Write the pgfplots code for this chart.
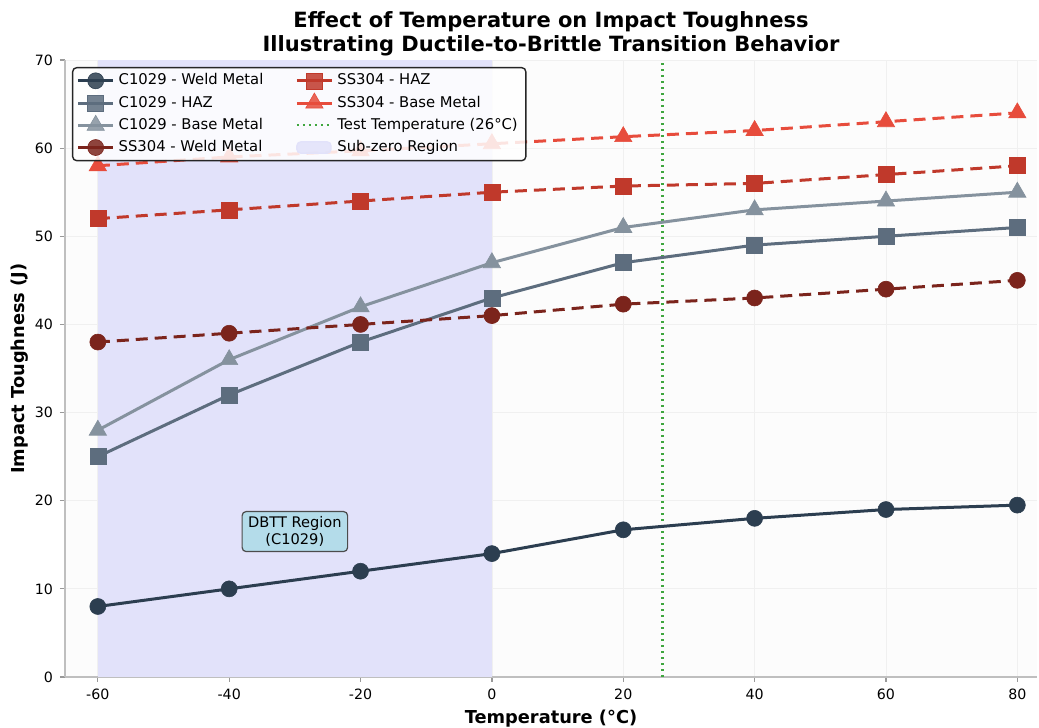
\documentclass[border=0pt]{standalone}
\usepackage{pgfplots}
\pgfplotsset{compat=1.18}
\usepackage{fontspec}
\setmainfont{DejaVu Sans}
\definecolor{cw}{HTML}{2C3E50}
\definecolor{ch}{HTML}{5D6D7E}
\definecolor{cb}{HTML}{85929E}
\definecolor{sw}{HTML}{7B241C}
\definecolor{sh}{HTML}{C0392B}
\definecolor{sb}{HTML}{E74C3C}
\definecolor{subz}{HTML}{E2E2FA}
\definecolor{tgreen}{HTML}{3FA63F}
\definecolor{annot}{HTML}{B4DCEA}
\begin{document}
\begin{tikzpicture}
\useasboundingbox (-32.5pt,-25.5pt) rectangle (487pt,338.5pt);
\begin{axis}[
  scale only axis, width=486pt, height=308.5pt,
  xmin=-65, xmax=83, ymin=0, ymax=70,
  xtick={-60,-40,-20,0,20,40,60,80},
  ytick={0,10,20,30,40,50,60,70},
  axis x line*=bottom, axis y line*=left,
  axis line style={black!25, line width=0.7pt},
  tick style={black!40, line width=0.6pt},
  tick align=outside, major tick length=2.5pt,
  grid=major, grid style={black!6, line width=0.4pt},
  axis background/.style={fill=black!1.2},
  /pgf/number format/assume math mode=true,
  ticklabel style={font=\fontsize{7.1}{8}\selectfont},
  title={Effect of Temperature on Impact Toughness\\Illustrating Ductile-to-Brittle Transition Behavior},
  title style={font=\bfseries\fontsize{10.5}{12}\selectfont, align=center, yshift=-7.5pt},
  xlabel={Temperature (°C)},
  ylabel={Impact Toughness (J)},
  label style={font=\bfseries\fontsize{8.9}{10}\selectfont},
  xlabel style={yshift=2pt},
  ylabel style={yshift=-3.5pt},
  legend columns=2,
  legend style={at={(0.0072,0.9887)}, anchor=north west, draw=black!85, line width=0.7pt,
    rounded corners=2pt, fill=white, fill opacity=0.85, text opacity=1,
    font=\fontsize{7.4}{8.5}\selectfont, row sep=0pt, inner xsep=2pt, inner ysep=1pt,
    /tikz/every even column/.append style={column sep=14pt}},
  legend cell align=left,
  legend image code/.code={\draw[mark repeat=2,mark phase=2] plot coordinates {(0pt,0pt)(8.75pt,0pt)(17.5pt,0pt)};},
]
% Sub-zero region
\addplot[fill=subz, draw=none, forget plot] coordinates {(-60,0)(-60,70)(0,70)(0,0)} -- cycle;
% test temperature
\addplot[tgreen, line width=1.2pt, dash pattern=on 1.1pt off 1.9pt, forget plot] coordinates {(26,0)(26,70)};

% C1029
\addplot[cw, line width=1.5pt, mark=*, mark size=4pt, mark options={line width=0.3pt}, forget plot] coordinates {
(-60,8)(-40,10)(-20,12)(0,14)(20,16.7)(40,18)(60,19)(80,19.5)};
\addplot[ch, line width=1.5pt, mark=square*, mark size=4pt, mark options={line width=0.3pt}, forget plot] coordinates {
(-60,25)(-40,32)(-20,38)(0,43)(20,47)(40,49)(60,50)(80,51)};
\addplot[cb, line width=1.5pt, mark=triangle*, mark size=5pt, mark options={line width=0.3pt}, forget plot] coordinates {
(-60,28)(-40,36)(-20,42)(0,47)(20,51)(40,53)(60,54)(80,55)};
% SS304
\addplot[sw, line width=1.5pt, dash pattern=on 6pt off 3.5pt, mark=*, mark size=4pt, mark options={solid, line width=0.3pt}, forget plot] coordinates {
(-60,38)(-40,39)(-20,40)(0,41)(20,42.3)(40,43)(60,44)(80,45)};
\addplot[sh, line width=1.5pt, dash pattern=on 6pt off 3.5pt, mark=square*, mark size=4pt, mark options={solid, line width=0.3pt}, forget plot] coordinates {
(-60,52)(-40,53)(-20,54)(0,55)(20,55.7)(40,56)(60,57)(80,58)};
\addplot[sb, line width=1.5pt, dash pattern=on 6pt off 3.5pt, mark=triangle*, mark size=5pt, mark options={solid, line width=0.3pt}, forget plot] coordinates {
(-60,58)(-40,59)(-20,59.7)(0,60.5)(20,61.3)(40,62)(60,63)(80,64)};

\node[draw=black!70, fill=annot, rounded corners=2pt, align=center, line width=0.6pt,
  font=\fontsize{7.3}{8.5}\selectfont, inner xsep=3pt, inner ysep=2.5pt] at (axis cs:-30,16.5) {DBTT Region\\(C1029)};

% legend (column-major order emulated)
\addlegendimage{cw, line width=1.5pt, mark=*, mark size=4pt, mark options={line width=0.3pt}}
\addlegendentry{C1029 - Weld Metal}
\addlegendimage{sh, line width=1.5pt, mark=square*, mark size=4pt, mark options={line width=0.3pt}}
\addlegendentry{SS304 - HAZ}
\addlegendimage{ch, line width=1.5pt, mark=square*, mark size=4pt, mark options={line width=0.3pt}}
\addlegendentry{C1029 - HAZ}
\addlegendimage{sb, line width=1.5pt, mark=triangle*, mark size=5pt, mark options={line width=0.3pt}}
\addlegendentry{SS304 - Base Metal}
\addlegendimage{cb, line width=1.5pt, mark=triangle*, mark size=5pt, mark options={line width=0.3pt}}
\addlegendentry{C1029 - Base Metal}
\addlegendimage{tgreen, line width=1.2pt, dash pattern=on 1.1pt off 1.9pt}
\addlegendentry{Test Temperature (26°C)}
\addlegendimage{sw, line width=1.5pt, mark=*, mark size=4pt, mark options={line width=0.3pt}}
\addlegendentry{SS304 - Weld Metal}
\addlegendimage{area legend, fill=subz, draw=subz}
\addlegendentry{Sub-zero Region}
\end{axis}
\end{tikzpicture}
\end{document}
